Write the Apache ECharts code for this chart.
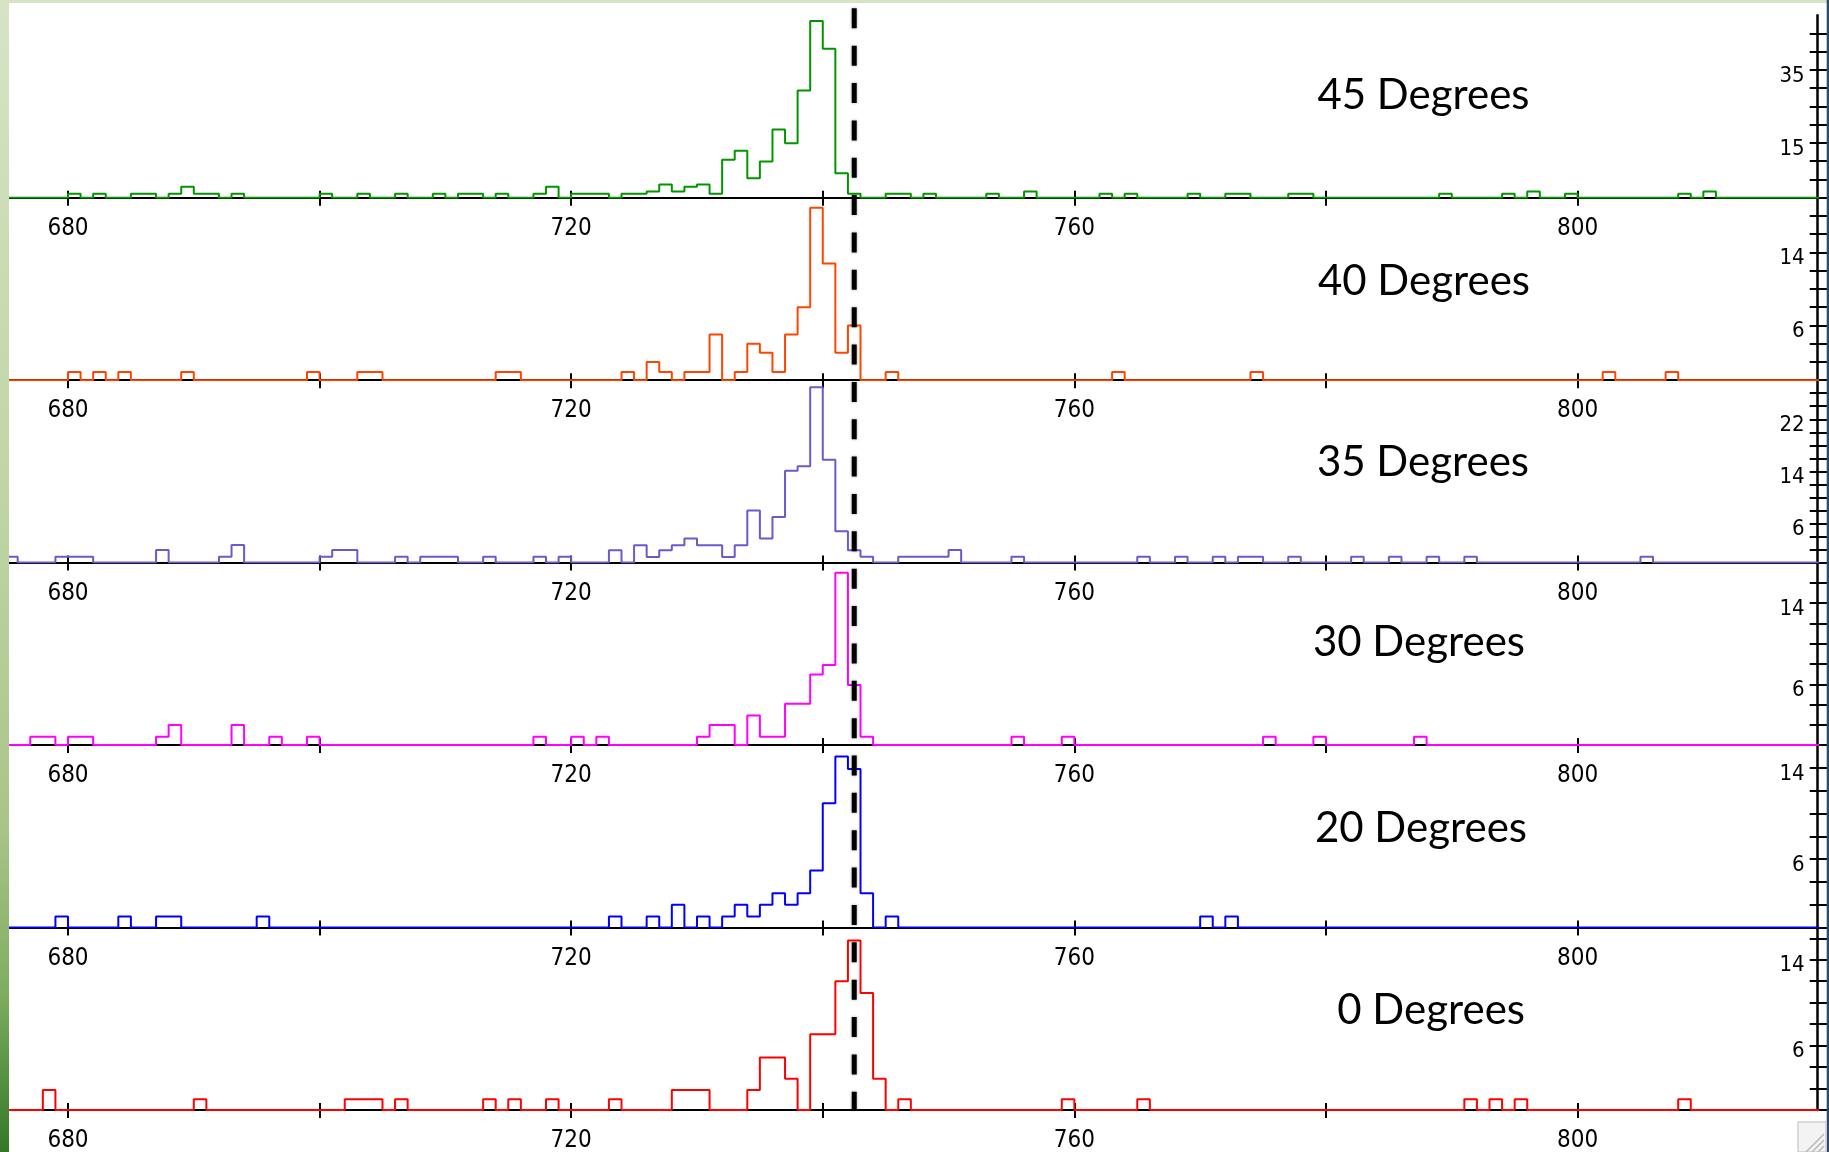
<!DOCTYPE html>
<html><head><meta charset="utf-8">
<script src="https://cdn.jsdelivr.net/npm/echarts@6/dist/echarts.min.js"></script>
<style>html,body{margin:0;padding:0;background:#fff;overflow:hidden}#c{width:1829px;height:1152px}</style>
</head><body><div id="c"></div>
<script>
// ---------------- DATA ----------------
const panelLabels = ['45 Degrees', '40 Degrees', '35 Degrees', '30 Degrees', '20 Degrees', '0 Degrees'];
const xTickValues = [680, 700, 720, 740, 760, 780, 800];
const xLabelValues = [680, 720, 760, 800];
const xMin = 675.31, xMax = 819.09;
const binFirst = 675, binLast = 819;
const yMaxes = [50, 20, 28, 18, 16, 17];
const yTickSteps = [5, 2, 2, 2, 2, 2];
const yTickTops = [45, 20, 28, 18, 16, 16];
const yLabels45 = [15, 35];
const yLabels40 = [6, 14];
const yLabels35 = [6, 14, 22];
const yLabels30 = [6, 14];
const yLabels20 = [6, 14];
const yLabels0 = [6, 14];
const refLine = 742.5;

// [bin start, height] for every non-empty bin (bin width 1)
const hist45 = [[680,1.1],[682,1.1],[685,1.1],[686,1.1],[688,1.1],[689,3.0],[690,1.1],[691,1.1],[693,1.1],
  [700,1.1],[703,1.1],[706,1.1],[709,1.1],[711,1.1],[712,1.1],[714,1.1],[717,1.1],[718,3.0],
  [720,1.1],[721,1.1],[722,1.1],[724,1.1],[725,1.1],[726,1.7],[727,3.65],[728,1.7],[729,3.0],[730,3.65],
  [731,1.1],[732,10.4],[733,12.9],[734,5.3],[735,9.9],[736,18.7],[737,14.9],[738,29.4],[739,48.4],
  [740,40.8],[741,6.7],[742,1.1],[745,1.1],[746,1.1],[748,1.1],[753,1.1],[756,1.7],[762,1.1],[764,1.1],
  [769,1.1],[772,1.1],[773,1.1],[777,1.1],[778,1.1],[789,1.1],[794,1.1],[796,1.7],[799,1.1],[808,1.1],[810,1.7]];
const hist40 = [[680,0.9],[682,0.9],[684,0.9],[689,0.9],[699,0.9],[703,0.9],[704,0.9],[714,0.9],[715,0.9],
  [724,0.9],[726,2.0],[727,0.9],[729,0.9],[730,0.9],[731,5.0],[733,0.9],[734,4.0],[735,3.0],[736,0.9],
  [737,5.0],[738,8.0],[739,18.9],[740,12.8],[741,3.0],[742,6.0],[745,0.9],[763,0.9],[774,0.9],[802,0.9],[807,0.9]];
const hist35 = [[675,0.9],[679,0.9],[680,0.9],[681,0.9],[687,1.95],[692,0.9],[693,2.7],[700,0.9],[701,1.95],
  [702,1.95],[706,0.9],[708,0.9],[709,0.9],[710,0.9],[713,0.9],[717,0.9],[719,0.9],[723,1.9],[725,2.67],
  [726,0.87],[727,1.9],[728,2.67],[729,3.7],[730,2.67],[731,2.67],[732,0.87],[733,2.67],[734,8.0],[735,3.7],
  [736,7.0],[737,14.1],[738,14.8],[739,26.9],[740,15.8],[741,4.8],[742,1.9],[743,0.9],[746,0.9],[747,0.9],
  [748,0.9],[749,0.9],[750,1.95],[755,0.9],[765,0.9],[768,0.9],[771,0.9],[773,0.9],[774,0.9],[777,0.9],
  [782,0.9],[785,0.9],[788,0.9],[791,0.9],[805,0.9]];
const hist30 = [[677,0.82],[678,0.82],[680,0.82],[681,0.82],[687,0.82],[688,1.97],[693,1.97],[696,0.82],
  [699,0.82],[717,0.82],[720,0.82],[722,0.82],[730,0.82],[731,1.97],[732,1.97],[734,2.93],[735,0.82],
  [736,0.82],[737,4.08],[738,4.08],[739,6.97],[740,7.9],[741,17.0],[742,5.92],[743,0.82],[755,0.82],
  [759,0.82],[775,0.82],[779,0.82],[787,0.82]];
const hist20 = [[679,0.96],[684,0.96],[687,0.96],[688,0.96],[695,0.96],[723,0.96],[726,0.96],[728,2.0],
  [730,0.96],[732,0.96],[733,2.0],[734,0.96],[735,2.0],[736,3.0],[737,2.0],[738,3.0],[739,5.0],[740,10.9],
  [741,15.0],[742,13.9],[743,3.0],[745,0.96],[770,0.96],[772,0.96]];
const hist0 = [[678,1.86],[690,1.0],[702,1.0],[703,1.0],[704,1.0],[706,1.0],[713,1.0],[715,1.0],[718,1.0],
  [723,1.0],[728,1.86],[729,1.86],[730,1.86],[734,1.86],[735,4.9],[736,4.9],[737,2.9],[739,7.05],[740,7.05],
  [741,12.0],[742,15.8],[743,10.9],[744,2.9],[746,1.0],[759,1.0],[765,1.0],[791,1.0],[793,1.0],[795,1.0],[808,1.0]];

const hists = [hist45, hist40, hist35, hist30, hist20, hist0];
const yLabelSets = [yLabels45, yLabels40, yLabels35, yLabels30, yLabels20, yLabels0];

// ---------------- STYLE / LAYOUT ----------------
const colors = ['#009600', '#ff4500', '#6a5acd', '#ff00ff', '#0000ff', '#ff0000'];
const LEFT = 9, PLOT_W = 1808.7, BASE0 = 197.7, PANEL_H = 182.46;
const titleX = [1529.5, 1530, 1529, 1525, 1527, 1525];
const titleY = [95.2, 281.5, 462.5, 642.5, 828.5, 1010.5];
const numFont = "'Liberation Sans Narrow', 'DejaVu Sans Condensed', 'Liberation Sans', sans-serif";

function stepData(pairs) {
  const m = new Map(pairs.map(p => [p[0], p[1]]));
  const out = [];
  for (let b = binFirst; b <= binLast; b++) out.push([b, m.has(b) ? m.get(b) : 0]);
  out.push([binLast + 1, 0]);
  return out;
}
function tickList(step, top) { const a = []; for (let v = 0; v <= top + 1e-9; v += step) a.push(v); return a; }

const grid = [], xAxis = [], yAxis = [], series = [], graphic = [];
hists.forEach((h, i) => {
  const base = BASE0 + PANEL_H * i;
  grid.push({ left: LEFT, width: PLOT_W, top: base - PANEL_H, height: PANEL_H, containLabel: false, outerBoundsMode: 'none' });
  const yt = tickList(yTickSteps[i], yTickTops[i]);
  xAxis.push({ type: 'value', gridIndex: i, position: 'bottom', min: xMin, max: xMax,
    axisLine: { show: true, onZero: false, lineStyle: { color: '#000', width: 2 } },
    axisTick: { show: true, inside: true, length: 7, customValues: xTickValues, lineStyle: { color: '#000', width: 2 } },
    axisLabel: { show: true, customValues: xLabelValues, margin: 19, color: '#000', fontSize: 24, fontFamily: numFont },
    splitLine: { show: false } });
  xAxis.push({ type: 'value', gridIndex: i, position: 'bottom', min: xMin, max: xMax,
    axisLine: { show: false, onZero: false },
    axisTick: { show: true, inside: false, length: 8, customValues: xTickValues, lineStyle: { color: '#000', width: 2 } },
    axisLabel: { show: false }, splitLine: { show: false } });
  yAxis.push({ type: 'value', gridIndex: i, position: 'right', min: 0, max: yMaxes[i],
    axisLine: { show: true, onZero: false, lineStyle: { color: '#000', width: 2.5 } },
    axisTick: { show: true, inside: true, length: 8, customValues: yt, lineStyle: { color: '#000', width: 2 } },
    axisLabel: { show: true, inside: true, margin: 13, customValues: yLabelSets[i], color: '#000', fontSize: 22,
      fontFamily: numFont, verticalAlign: 'top', lineHeight: 12 },
    splitLine: { show: false } });
  yAxis.push({ type: 'value', gridIndex: i, position: 'right', min: 0, max: yMaxes[i],
    axisLine: { show: false, onZero: false },
    axisTick: { show: true, inside: false, length: 10, customValues: yt, lineStyle: { color: '#000', width: 2 } },
    axisLabel: { show: false }, splitLine: { show: false } });
  series.push({ type: 'line', step: 'end', xAxisIndex: 2 * i, yAxisIndex: 2 * i, data: stepData(h),
    showSymbol: false, symbol: 'none', clip: true, z: 3, silent: true,
    lineStyle: { color: colors[i], width: 2 } });
  graphic.push({ type: 'text', x: titleX[i], y: titleY[i], z: 20,
    style: { text: panelLabels[i], fontSize: 42, fontFamily: 'Lato, "Open Sans", sans-serif', fill: '#000',
      align: 'right', verticalAlign: 'middle', textAlign: 'right', textVerticalAlign: 'middle' } });
});

// dashed reference line spanning all panels
grid.push({ left: LEFT, width: PLOT_W, top: 8.3, height: 1110 - 8.3, containLabel: false, outerBoundsMode: 'none' });
xAxis.push({ type: 'value', gridIndex: 6, min: xMin, max: xMax, show: false });
yAxis.push({ type: 'value', gridIndex: 6, min: 0, max: 1, show: false });
series.push({ type: 'line', xAxisIndex: 12, yAxisIndex: 12, data: [[refLine, 1], [refLine, 0]],
  showSymbol: false, symbol: 'none', z: 10, silent: true,
  lineStyle: { color: '#000', width: 5, type: [20, 17.36], cap: 'butt',
    shadowBlur: 3, shadowColor: 'rgba(0,0,0,0.35)' } });

// frame decorations
graphic.push({ type: 'rect', shape: { x: 0, y: 0, width: 9, height: 1152 }, z: 30,
  style: { fill: new echarts.graphic.LinearGradient(0, 0, 0, 1, [
    { offset: 0, color: '#d6e4c4' }, { offset: 0.45, color: '#bfd4a4' }, { offset: 0.72, color: '#a9c488' },
    { offset: 0.86, color: '#7fae60' }, { offset: 1, color: '#347828' }]) } });
graphic.push({ type: 'rect', shape: { x: 0, y: 0, width: 1829, height: 3 }, z: 30, style: { fill: '#d6e4c4' } });
graphic.push({ type: 'rect', shape: { x: 1826.7, y: 0, width: 2.3, height: 1152 }, z: 30, style: { fill: '#2e4a6e' } });
graphic.push({ type: 'rect', shape: { x: 1798, y: 1122, width: 28, height: 30 }, z: 30,
  style: { fill: '#f3f3f3', stroke: '#cfcfcf', lineWidth: 1.5 } });
[0, 6, 12].forEach(d => graphic.push({ type: 'line', z: 31,
  shape: { x1: 1806 + d, y1: 1152, x2: 1824, y2: 1134 + d }, style: { stroke: '#b8b8b8', lineWidth: 1.5 } }));

const chart = echarts.init(document.getElementById('c'), null, { renderer: 'canvas' });
chart.setOption({ animation: false, backgroundColor: '#ffffff', grid, xAxis, yAxis, series, graphic });
</script></body></html>
